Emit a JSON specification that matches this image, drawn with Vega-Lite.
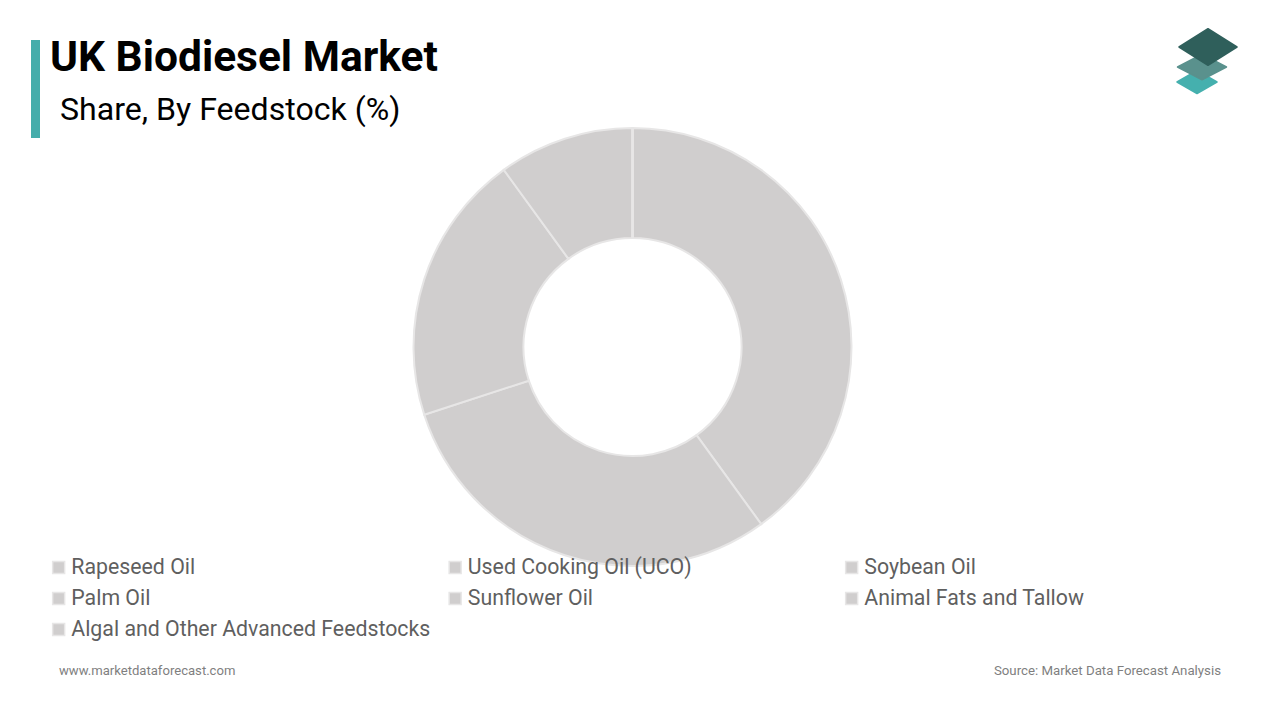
{"$schema":"https://vega.github.io/schema/vega-lite/v6.json","width":1280,"height":720,"padding":0,"autosize":"none","background":"#ffffff","title":{"text":"UK Biodiesel Market","anchor":"start","frame":"group","orient":"top","dx":50,"dy":83,"font":"Roboto","fontSize":42.5,"fontWeight":"bold","color":"#000000"},"config":{"view":{"stroke":null}},"layer":[{"data":{"values":[{"feedstock":"Rapeseed Oil","share":40,"rank":1},{"feedstock":"Used Cooking Oil (UCO)","share":30,"rank":2},{"feedstock":"Soybean Oil","share":20,"rank":3},{"feedstock":"Palm Oil","share":10,"rank":4},{"feedstock":"Sunflower Oil","share":0,"rank":5},{"feedstock":"Animal Fats and Tallow","share":0,"rank":6},{"feedstock":"Algal and Other Advanced Feedstocks","share":0,"rank":7}]},"mark":{"type":"arc","outerRadius":219,"innerRadius":109,"stroke":"#E7E6E6","strokeWidth":2},"encoding":{"x":{"value":632.5},"y":{"value":347},"theta":{"field":"share","type":"quantitative","stack":true,"scale":{"domain":[0,100]}},"order":{"field":"rank","type":"quantitative"},"color":{"field":"feedstock","type":"nominal","scale":{"domain":["Rapeseed Oil","Used Cooking Oil (UCO)","Soybean Oil","Palm Oil","Sunflower Oil","Animal Fats and Tallow","Algal and Other Advanced Feedstocks"],"range":["#D0CECE","#D0CECE","#D0CECE","#D0CECE","#D0CECE","#D0CECE","#D0CECE"]},"legend":{"title":null,"orient":"none","direction":"horizontal","legendX":48,"legendY":555,"columns":3,"gridAlign":"all","columnPadding":13.5,"rowPadding":6,"symbolType":"square","symbolSize":144,"symbolStrokeColor":"#E7E6E6","symbolStrokeWidth":1.5,"labelFont":"Roboto","labelFontSize":21.3,"labelColor":"#5F5F5F","labelLimit":500,"labelOffset":2,"clipHeight":25}}}},{"data":{"values":[{"label":"Share, By Feedstock (%)"}]},"mark":{"type":"text","font":"Roboto","fontSize":32.1,"color":"#000000","align":"left","baseline":"alphabetic"},"encoding":{"x":{"value":60},"y":{"value":120},"text":{"field":"label"}}},{"data":{"values":[{"label":"www.marketdataforecast.com"}]},"mark":{"type":"text","font":"Roboto","fontSize":13.1,"color":"#7F7F7F","align":"left","baseline":"alphabetic"},"encoding":{"x":{"value":59},"y":{"value":675},"text":{"field":"label"}}},{"data":{"values":[{"label":"Source: Market Data Forecast Analysis"}]},"mark":{"type":"text","font":"Roboto","fontSize":13.25,"color":"#7F7F7F","align":"right","baseline":"alphabetic"},"encoding":{"x":{"value":1221},"y":{"value":675},"text":{"field":"label"}}},{"data":{"values":[{"part":"accent bar"}]},"mark":{"type":"rect","color":"#45ADAB"},"encoding":{"x":{"value":31},"x2":{"value":40},"y":{"value":40},"y2":{"value":138}}},{"data":{"values":[{"part":"logo bottom"}]},"mark":{"type":"point","filled":true,"opacity":1,"color":"#45B0AE","shape":"M-1,0L0,-0.58L1,0L0,0.58Z","size":1600,"stroke":"#45B0AE","strokeWidth":1.5,"strokeJoin":"round"},"encoding":{"x":{"value":1197},"y":{"value":82}}},{"data":{"values":[{"part":"logo middle"}]},"mark":{"type":"point","filled":true,"opacity":1,"color":"#5A918D","shape":"M-1,0L0,-0.52L1,0L0,0.52Z","size":2401,"stroke":"#5A918D","strokeWidth":1.5,"strokeJoin":"round"},"encoding":{"x":{"value":1202},"y":{"value":67}}},{"data":{"values":[{"part":"logo top"}]},"mark":{"type":"point","filled":true,"opacity":1,"color":"#2F5F5B","shape":"M-1,0L0,-0.63L1,0L0,0.63Z","size":3364,"stroke":"#2F5F5B","strokeWidth":1.5,"strokeJoin":"round"},"encoding":{"x":{"value":1208},"y":{"value":47}}}]}
